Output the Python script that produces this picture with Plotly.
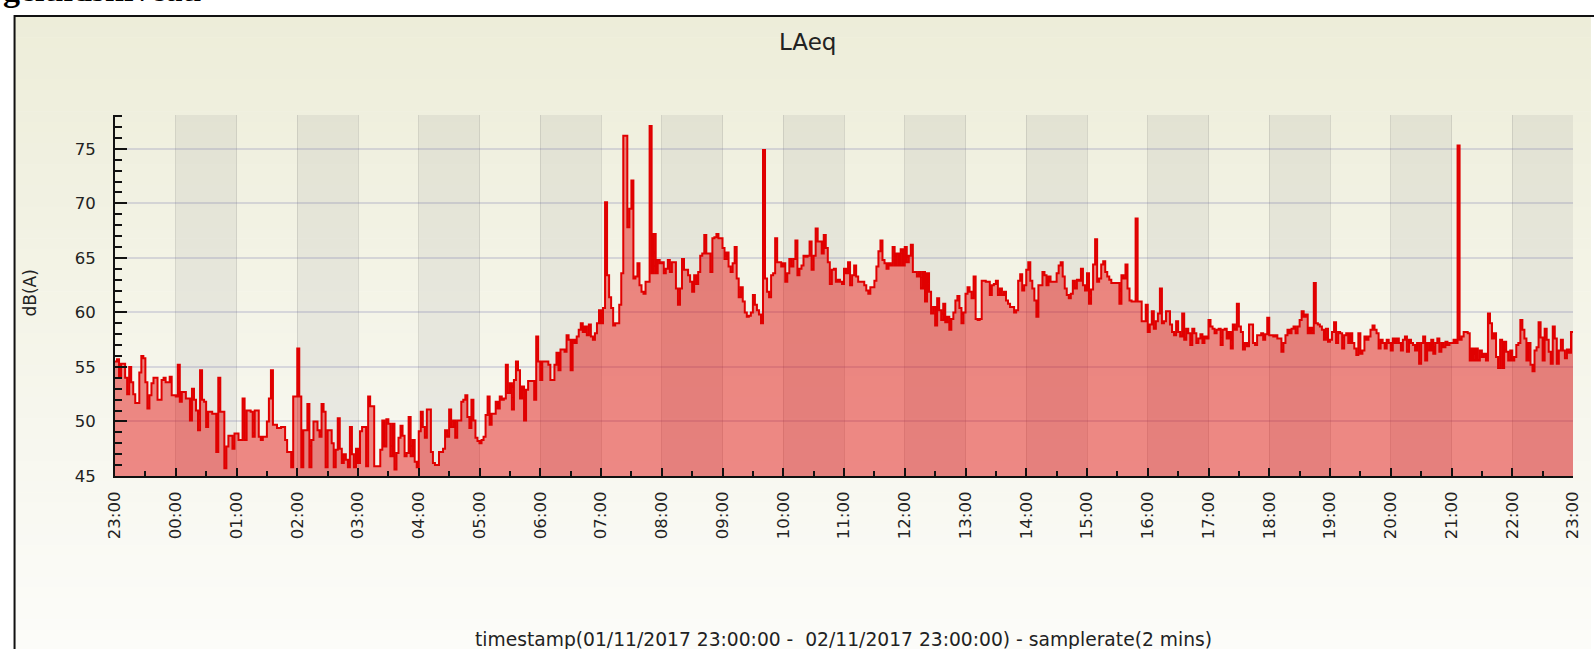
import pandas as pd
import plotly.graph_objects as go

# ---- data: LAeq dB(A), 2-minute samples, one list per hour ----
h23 = [55.5, 55.7, 54.0, 55.3, 55.3, 54.0, 52.5, 55.0, 53.6, 52.5, 51.7, 51.7, 54.5, 56.0, 55.8, 53.6, 51.2, 52.4, 53.5, 54.0, 54.0, 52.0, 52.0, 53.8, 54.0, 53.6, 53.6, 54.1, 52.4, 52.4]
h00 = [52.3, 55.2, 51.8, 52.7, 52.7, 52.1, 52.1, 50.1, 53.0, 52.0, 51.0, 49.2, 54.7, 52.0, 51.8, 49.5, 50.9, 50.9, 50.7, 50.7, 47.2, 54.0, 50.9, 50.9, 45.7, 47.7, 48.7, 48.7, 47.5, 48.9]
h01 = [48.9, 48.3, 48.3, 52.1, 48.3, 51.0, 51.0, 50.9, 48.6, 51.0, 51.0, 48.6, 48.3, 48.6, 48.6, 50.0, 52.1, 54.7, 49.7, 49.7, 49.4, 49.4, 49.5, 49.5, 48.3, 47.2, 47.2, 45.8, 52.3, 52.3]
h02 = [56.7, 52.3, 45.8, 49.2, 49.2, 51.6, 45.8, 48.3, 50.0, 50.0, 49.2, 48.6, 51.6, 50.9, 45.8, 49.2, 49.2, 48.0, 45.8, 47.4, 50.3, 47.5, 46.2, 47.0, 46.5, 45.8, 49.5, 47.0, 45.8, 47.5]
h03 = [46.2, 49.1, 49.5, 49.5, 45.9, 52.3, 51.4, 51.4, 45.9, 45.9, 45.9, 47.4, 50.1, 47.7, 50.2, 49.8, 46.8, 49.8, 45.6, 47.1, 48.5, 49.6, 48.7, 46.8, 47.1, 50.4, 46.8, 48.3, 46.3, 45.8]
h04 = [49.1, 50.9, 49.5, 48.5, 51.1, 51.1, 47.2, 46.2, 46.0, 46.0, 47.2, 47.2, 47.5, 49.2, 48.6, 51.1, 49.5, 50.1, 48.5, 50.1, 50.1, 51.8, 52.0, 52.4, 50.4, 49.4, 52.0, 50.1, 48.5, 48.2]
h05 = [48.0, 48.3, 48.6, 50.6, 52.3, 49.7, 50.7, 50.7, 51.8, 51.2, 52.3, 52.0, 52.1, 55.2, 52.6, 53.5, 51.1, 53.8, 55.5, 54.7, 52.1, 53.2, 50.1, 52.9, 53.7, 53.7, 53.7, 52.0, 57.8, 55.5]
h06 = [53.8, 55.5, 55.5, 55.5, 55.2, 53.8, 53.8, 55.2, 56.3, 54.7, 56.6, 56.6, 56.4, 57.9, 57.5, 54.7, 57.5, 57.2, 57.8, 58.4, 59.0, 58.2, 58.7, 57.9, 58.9, 57.8, 57.5, 58.1, 59.0, 60.2]
h07 = [59.0, 60.4, 70.1, 63.4, 61.4, 60.4, 58.8, 59.0, 59.0, 60.7, 63.6, 76.2, 76.2, 67.8, 69.5, 72.1, 63.1, 63.3, 64.5, 62.5, 61.9, 61.7, 62.8, 62.8, 77.1, 63.6, 67.2, 63.6, 64.8, 64.5]
h08 = [64.6, 63.6, 64.0, 64.8, 63.7, 64.6, 64.6, 62.2, 60.7, 62.2, 64.9, 63.9, 63.9, 63.4, 62.8, 61.9, 63.4, 62.6, 63.7, 65.2, 65.4, 67.1, 65.4, 65.4, 63.7, 66.8, 66.9, 67.2, 66.8, 66.8]
h09 = [65.9, 64.9, 65.5, 64.2, 63.7, 64.5, 66.0, 63.1, 61.4, 62.3, 61.0, 60.0, 59.6, 59.7, 60.0, 61.6, 60.7, 60.2, 59.8, 59.0, 74.9, 63.1, 61.9, 61.4, 63.4, 63.6, 66.8, 64.6, 64.6, 64.2]
h10 = [64.5, 62.8, 63.6, 64.9, 64.2, 64.9, 66.6, 63.4, 64.0, 64.3, 65.2, 65.1, 65.2, 66.5, 63.9, 65.2, 67.7, 66.5, 66.5, 65.4, 67.1, 65.9, 64.6, 62.6, 63.9, 64.0, 62.8, 63.0, 62.8, 62.6]
h11 = [64.0, 63.6, 64.6, 62.5, 63.4, 64.3, 63.3, 62.8, 62.8, 62.8, 62.5, 62.0, 61.7, 62.3, 62.3, 62.9, 64.2, 65.6, 66.6, 64.8, 64.5, 64.0, 64.5, 64.3, 66.0, 64.3, 65.4, 64.3, 65.8, 64.3]
h12 = [66.0, 64.6, 65.2, 66.2, 63.7, 63.7, 63.3, 63.7, 62.2, 63.7, 61.0, 63.6, 61.9, 59.9, 60.5, 58.8, 61.3, 60.2, 59.3, 60.8, 59.1, 59.6, 58.4, 59.4, 60.0, 61.1, 61.5, 60.4, 59.0, 60.0]
h13 = [61.7, 62.3, 61.9, 61.3, 63.3, 59.4, 59.3, 59.4, 62.9, 62.9, 62.8, 62.8, 61.6, 62.5, 62.6, 62.9, 61.6, 62.2, 61.6, 61.9, 61.1, 60.8, 60.5, 60.5, 60.0, 60.2, 62.9, 63.5, 62.0, 62.5]
h14 = [63.9, 64.6, 62.9, 62.2, 61.1, 59.6, 62.5, 62.5, 63.7, 63.4, 62.5, 63.3, 62.8, 62.8, 62.8, 63.6, 64.3, 64.6, 63.3, 62.2, 61.6, 61.3, 61.7, 62.9, 62.2, 63.0, 62.9, 64.0, 62.5, 62.0]
h15 = [63.6, 60.8, 62.1, 64.4, 66.7, 62.8, 63.1, 64.4, 64.7, 63.7, 63.3, 63.0, 62.7, 62.7, 62.7, 62.7, 60.8, 63.4, 63.1, 64.4, 62.2, 61.1, 61.0, 61.0, 68.6, 61.0, 61.0, 59.2, 59.2, 60.7]
h16 = [58.2, 58.9, 60.1, 58.5, 59.2, 59.9, 62.2, 59.0, 59.2, 60.1, 60.1, 58.9, 58.2, 57.9, 59.2, 58.2, 57.8, 59.9, 57.5, 58.5, 58.1, 57.0, 58.5, 58.1, 57.2, 57.6, 58.0, 57.2, 57.8, 57.6]
h17 = [59.3, 58.7, 58.5, 58.1, 58.4, 58.5, 57.0, 58.4, 58.5, 57.6, 58.2, 56.7, 58.9, 58.4, 60.8, 58.7, 58.2, 56.6, 57.2, 56.9, 58.9, 58.9, 57.2, 57.0, 57.9, 57.9, 58.1, 57.5, 58.0, 59.5]
h18 = [57.9, 57.9, 57.8, 57.9, 57.6, 57.6, 56.4, 57.2, 57.9, 58.4, 58.1, 58.5, 58.7, 58.1, 58.7, 59.3, 60.1, 59.6, 59.8, 58.1, 58.6, 58.1, 62.7, 59.0, 58.9, 58.7, 58.4, 57.5, 58.5, 57.3]
h19 = [57.5, 58.2, 59.1, 57.2, 58.2, 58.1, 56.7, 57.9, 58.1, 57.2, 58.1, 57.2, 56.7, 56.1, 58.1, 56.2, 56.5, 57.8, 57.5, 57.8, 58.4, 58.8, 58.4, 58.1, 56.7, 57.5, 57.2, 56.7, 57.5, 57.2]
h20 = [56.5, 57.6, 57.2, 57.6, 57.2, 56.5, 57.5, 57.8, 56.4, 57.5, 57.2, 57.0, 56.5, 57.2, 55.3, 57.2, 57.8, 55.6, 57.2, 56.5, 57.5, 56.2, 57.2, 57.6, 56.4, 57.2, 56.8, 57.3, 57.0, 57.2]
h21 = [57.2, 57.5, 57.2, 75.3, 57.5, 57.8, 58.2, 58.2, 58.1, 55.6, 56.7, 55.6, 56.7, 55.6, 56.5, 55.9, 56.2, 55.6, 59.9, 59.0, 57.6, 58.1, 55.9, 54.9, 57.5, 54.9, 57.3, 56.4, 55.6, 56.5]
h22 = [55.6, 55.9, 57.0, 57.2, 59.3, 58.4, 57.6, 55.6, 57.2, 55.2, 54.6, 56.5, 56.8, 59.1, 57.7, 55.6, 58.5, 57.5, 56.4, 55.3, 58.7, 57.6, 55.3, 56.5, 57.5, 56.5, 55.8, 56.6, 56.3, 58.2]
end_value = [58.2]

hours = [h23, h00, h01, h02, h03, h04, h05, h06, h07, h08, h09, h10, h11,
         h12, h13, h14, h15, h16, h17, h18, h19, h20, h21, h22]
laeq = [v for h in hours for v in h] + end_value
timestamps = pd.date_range("2017-11-01 23:00", periods=len(laeq), freq="2min")

# ---- layout geometry (pixels) ----
W, H = 1594, 649
L, R, T, B = 115, 13, 115, 173
PW, PH = W - L - R, H - T - B


def px2x(px):
    return (px - L) / PW


def py2y(py):
    return (H - B - py) / PH


shapes = []
# background vertical gradient (inside the frame)
n = 60
c0, c1 = (237, 237, 217), (252, 252, 249)
top, bot = 16, H + 2
for i in range(n):
    f = i / (n - 1)
    col = tuple(round(c0[k] + (c1[k] - c0[k]) * f) for k in range(3))
    ya = top + (bot - top) * i / n
    yb = top + (bot - top) * (i + 1) / n + 0.6
    shapes.append(dict(type="rect", xref="paper", yref="paper", layer="below",
                       x0=px2x(14), x1=px2x(W + 5), y0=py2y(yb), y1=py2y(ya),
                       fillcolor="rgb(%d,%d,%d)" % col, line=dict(width=0)))

# alternating hour bands
for k in range(1, 24, 2):
    shapes.append(dict(type="rect", xref="x", yref="paper", layer="below",
                       x0=timestamps[k * 30], x1=timestamps[min(k * 30 + 30, len(laeq) - 1)],
                       y0=0, y1=1, fillcolor="rgba(95,95,110,0.085)", line=dict(width=0)))

# outer frame
shapes.append(dict(type="rect", xref="paper", yref="paper", layer="above",
                   x0=px2x(14), x1=px2x(W + 40), y0=py2y(H + 40), y1=py2y(16),
                   line=dict(color="#111", width=2), fillcolor="rgba(0,0,0,0)"))

fig = go.Figure()
fig.add_trace(go.Scatter(
    x=timestamps, y=laeq, mode="lines",
    line=dict(color="#e00000", width=2, shape="hv"),
    fill="tozeroy", fillcolor="rgba(224,0,0,0.45)",
    hoverinfo="x+y", showlegend=False))

tickfont = dict(family="DejaVu Sans", size=16.5, color="#222")
fig.update_layout(
    width=W, height=H,
    margin=dict(l=L, r=R, t=T, b=B, pad=0),
    paper_bgcolor="white", plot_bgcolor="rgba(0,0,0,0)",
    shapes=shapes,
    xaxis=dict(
        type="date", range=[timestamps[0], timestamps[-1]],
        tick0=timestamps[0], dtick=3600000, tickformat="%H:%M",
        tickangle=-90, tickfont=tickfont,
        ticks="inside", ticklen=8, tickwidth=2, tickcolor="#111",
        minor=dict(dtick=1800000, ticks="inside", ticklen=5, tickwidth=2,
                   tickcolor="#111", showgrid=False),
        showline=True, linecolor="#111", linewidth=2,
        showgrid=True, gridcolor="rgba(120,120,120,0.22)", gridwidth=1,
        zeroline=False, ticklabelstandoff=7,
    ),
    yaxis=dict(
        range=[45, 78.1], tick0=45, dtick=5, tickfont=tickfont,
        ticks="inside", ticklen=12, tickwidth=2, tickcolor="#111",
        minor=dict(dtick=1, ticks="inside", ticklen=7, tickwidth=2,
                   tickcolor="#111", showgrid=False),
        showline=True, linecolor="#111", linewidth=2,
        showgrid=True, gridcolor="rgba(110,110,170,0.22)", gridwidth=1.5,
        zeroline=False, ticklabelstandoff=14,
    ),
    annotations=[
        dict(text="LAeq", xref="paper", yref="paper", x=px2x(811), y=py2y(42),
             showarrow=False, xanchor="center", yanchor="middle",
             font=dict(family="DejaVu Sans", size=23, color="#222")),
        dict(text="dB(A)", xref="paper", yref="paper", x=px2x(30), y=py2y(293),
             showarrow=False, textangle=-90, xanchor="center", yanchor="middle",
             font=dict(family="DejaVu Sans", size=17, color="#222")),
        dict(text="timestamp(01/11/2017 23:00:00 -  02/11/2017 23:00:00) - samplerate(2 mins)",
             xref="paper", yref="paper", x=px2x(847), y=py2y(639),
             showarrow=False, xanchor="center", yanchor="middle",
             font=dict(family="DejaVu Sans", size=18.7, color="#222")),
        dict(text="<b>geluidsniveau</b>", xref="paper", yref="paper",
             x=px2x(0), y=py2y(10.5), showarrow=False, xanchor="left", yanchor="bottom",
             font=dict(family="Liberation Serif", size=34, color="#000")),
    ],
)

fig.write_html("out.html", config={"displayModeBar": False},
               post_script="document.body.style.margin='0px';document.body.style.overflow='hidden';")
